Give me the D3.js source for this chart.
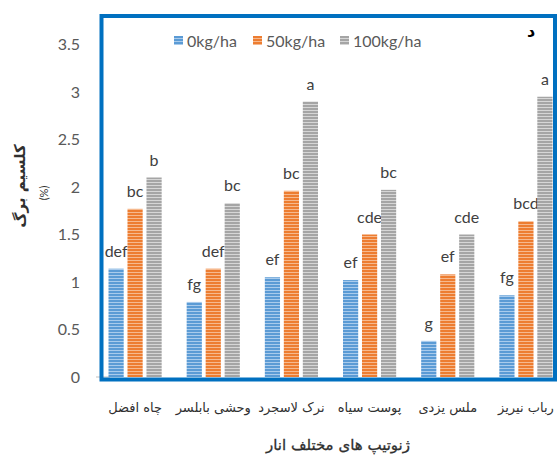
<!DOCTYPE html>
<html>
<head>
<meta charset="utf-8">
<script src="https://cdn.jsdelivr.net/npm/d3@7"></script>
<style>
  html, body { margin: 0; padding: 0; background: #fff; }
  svg { display: block; }
</style>
</head>
<body>
<svg id="chart" width="558" height="456"></svg>
<script>
// Leaf calcium (%) of pomegranate genotypes under three fertiliser rates
const genotypes = ["چاه افضل", "وحشی بابلسر", "نرک لاسجرد", "پوست سیاه", "ملس یزدی", "رباب نیریز"];
const seriesNames = ["0kg/ha", "50kg/ha", "100kg/ha"];
const values0 = [1.14, 0.79, 1.05, 1.02, 0.38, 0.86];
const values50 = [1.77, 1.14, 1.96, 1.50, 1.08, 1.64];
const values100 = [2.10, 1.83, 2.90, 1.97, 1.50, 2.95];
const letters0 = ["def", "fg", "ef", "ef", "g", "fg"];
const letters50 = ["bc", "def", "bc", "cde", "ef", "bcd"];
const letters100 = ["b", "bc", "a", "bc", "cde", "a"];
const yTicks = [0, 0.5, 1, 1.5, 2, 2.5, 3, 3.5];

const seriesValues = [values0, values50, values100];
const seriesLetters = [letters0, letters50, letters100];
const baseColors = ["#5b9bd5", "#ed7d31", "#a5a5a5"];
const stripeColors = ["#a9cbec", "#f6b98e", "#d6d6d6"];

const svg = d3.select("#chart");
const latin = "Lato, 'Liberation Sans', sans-serif";
const persian = "'DejaVu Sans', sans-serif";

// striped fills
const defs = svg.append("defs");
seriesNames.forEach((s, i) => {
  const p = defs.append("pattern")
    .attr("id", "stripe" + i)
    .attr("patternUnits", "userSpaceOnUse")
    .attr("width", 8).attr("height", 3);
  p.append("rect").attr("width", 8).attr("height", 3).attr("fill", baseColors[i]);
  p.append("rect").attr("y", 2).attr("width", 8).attr("height", 1).attr("fill", stripeColors[i]);
});

const x0 = d3.scaleBand().domain(genotypes).range([96, 565]).padding(0);
const x1 = d3.scaleBand().domain(seriesNames.map((d, i) => i))
  .range([12.5, x0.bandwidth() - 12.5]).paddingInner(0.2);
const y = d3.scaleLinear().domain([0, 3.5]).range([377, 44.5]);

// y axis labels
const yAxis = d3.axisLeft(y).tickValues(yTicks).tickSize(0).tickPadding(0)
  .tickFormat(d3.format("~g"));
const gy = svg.append("g").attr("transform", "translate(80,0)").call(yAxis);
gy.select(".domain").remove();
gy.selectAll("text")
  .attr("font-family", latin).attr("font-size", 16).attr("fill", "#595959");

// baseline
svg.append("line").attr("x1", 96).attr("x2", 110)
  .attr("y1", y(0)).attr("y2", y(0)).attr("stroke", "#bfbfbf");

// bars
const groups = svg.append("g").selectAll("g")
  .data(genotypes).join("g")
  .attr("transform", d => `translate(${x0(d)},0)`);

groups.each(function (g, gi) {
  const sel = d3.select(this);
  seriesValues.forEach((vals, si) => {
    const v = vals[gi];
    sel.append("rect")
      .attr("x", x1(si)).attr("width", x1.bandwidth())
      .attr("y", y(v)).attr("height", y(0) - y(v))
      .attr("fill", `url(#stripe${si})`);
    sel.append("text")
      .attr("x", x1(si) + x1.bandwidth() / 2)
      .attr("y", y(v) - 12)
      .attr("text-anchor", "middle")
      .attr("font-family", latin).attr("font-size", 16)
      .attr("fill", "#404040")
      .text(seriesLetters[si][gi]);
  });
});

// x axis category labels
const xAxis = d3.axisBottom(x0).tickSize(0).tickPadding(0);
const gx = svg.append("g").attr("transform", "translate(0,412)").call(xAxis);
gx.select(".domain").remove();
gx.selectAll("text")
  .attr("dy", 0)
  .attr("font-family", persian).attr("font-size", 13).attr("fill", "#303030");

// frame
svg.append("rect")
  .attr("x", 101.5).attr("y", 16).attr("width", 453.5).attr("height", 363.5)
  .attr("fill", "none").attr("stroke", "#0070c0").attr("stroke-width", 4);

// legend
const legendX = [174, 253, 340];
seriesNames.forEach((s, i) => {
  const lg = svg.append("g").attr("transform", `translate(${legendX[i]},36)`);
  lg.append("rect").attr("width", 9).attr("height", 9).attr("fill", `url(#stripe${i})`);
  lg.append("text").attr("x", 13).attr("y", 10.5)
    .attr("font-family", latin).attr("font-size", 16).attr("fill", "#595959")
    .text(s);
});

// panel mark
svg.append("text").attr("x", 531).attr("y", 37)
  .attr("text-anchor", "middle")
  .attr("font-family", persian).attr("font-size", 16).attr("font-weight", "bold")
  .attr("fill", "#000").text("د");

// axis titles
svg.append("text")
  .attr("transform", "translate(25,186) rotate(-90)")
  .attr("text-anchor", "middle")
  .attr("font-family", persian).attr("font-size", 15).attr("font-weight", "bold")
  .attr("fill", "#303030").text("کلسیم برگ");
svg.append("text")
  .attr("transform", "translate(48,193) rotate(-90)")
  .attr("text-anchor", "middle")
  .attr("font-family", latin).attr("font-size", 11)
  .attr("fill", "#303030").text("(%)");
svg.append("text")
  .attr("x", 338).attr("y", 450)
  .attr("text-anchor", "middle")
  .attr("font-family", persian).attr("font-size", 15)
  .attr("stroke", "#303030").attr("stroke-width", 0.3)
  .attr("fill", "#303030").text("ژنوتیپ های مختلف انار");
</script>
</body>
</html>
